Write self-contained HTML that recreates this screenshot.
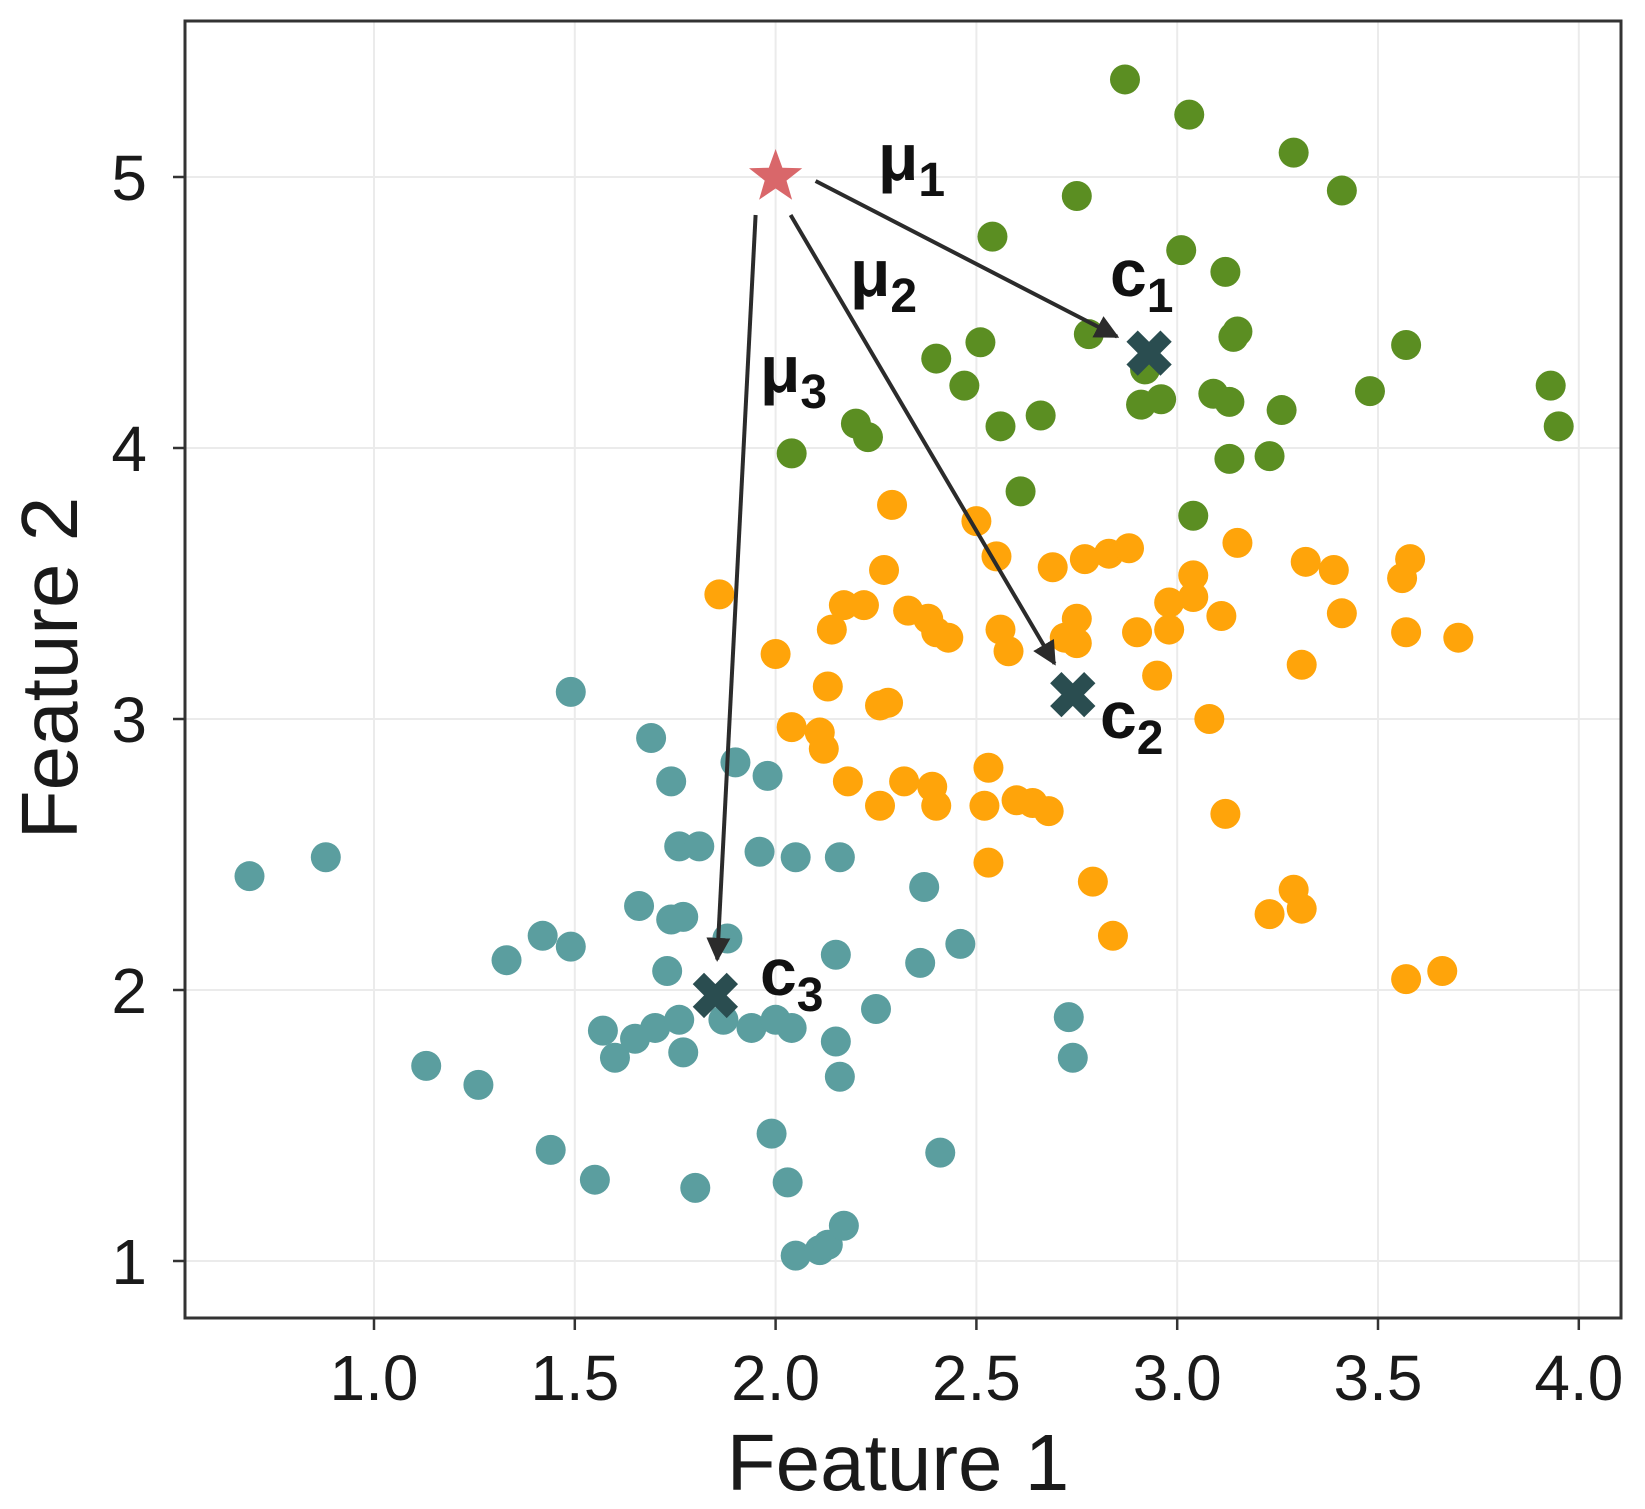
<!DOCTYPE html>
<html><head><meta charset="utf-8"><style>
html,body{margin:0;padding:0;background:#fff;}
svg{display:block;font-family:"Liberation Sans","DejaVu Sans",sans-serif;}
</style></head><body>
<svg id="chart" width="1645" height="1509" viewBox="0 0 1645 1509" xmlns="http://www.w3.org/2000/svg">
<defs><marker id="ah" viewBox="0 0 10 10" refX="9" refY="5" markerWidth="6" markerHeight="6" orient="auto-start-reverse"><path d="M0,0 L10,5 L0,10 z" fill="#2b2b2b"/></marker></defs>
<g id="grid"></g><g id="pts"></g><g id="ann"></g><g id="axes"></g>
</svg>
<script>
const xTicks=[1.0,1.5,2.0,2.5,3.0,3.5,4.0];
const xTickLabels=["1.0","1.5","2.0","2.5","3.0","3.5","4.0"];
const yTicks=[1,2,3,4,5];
const yTickLabels=["1","2","3","4","5"];
const greenX=[2.87,3.03,3.29,3.41,2.75,2.54,3.01,3.12,2.78,2.51,3.14,2.40,2.47,2.92,2.91,2.96,3.09,3.13,3.26,3.48,3.57,3.93,3.95,2.56,2.66,2.20,2.23,2.04,3.13,3.23,2.61,3.04,3.15];
const greenY=[5.36,5.23,5.09,4.95,4.93,4.78,4.73,4.65,4.42,4.39,4.41,4.33,4.23,4.29,4.16,4.18,4.20,4.17,4.14,4.21,4.38,4.23,4.08,4.08,4.12,4.09,4.04,3.98,3.96,3.97,3.84,3.75,4.43];
const orangeX=[2.29,2.50,2.55,3.15,2.69,2.77,2.83,2.88,3.32,3.39,3.56,3.58,3.04,3.04,2.27,1.86,2.17,2.22,2.33,2.38,2.40,2.43,2.14,2.56,2.58,2.75,2.75,2.72,2.90,2.98,2.98,3.11,3.41,3.57,3.70,3.31,2.95,2.00,2.13,2.26,2.28,2.04,2.11,2.12,3.08,2.53,2.18,2.32,2.39,2.40,2.26,2.52,2.60,2.64,2.68,2.79,3.12,2.84,3.23,3.29,3.31,3.57,3.66,2.53];
const orangeY=[3.79,3.73,3.60,3.65,3.56,3.59,3.61,3.63,3.58,3.55,3.52,3.59,3.53,3.45,3.55,3.46,3.42,3.42,3.40,3.37,3.32,3.30,3.33,3.33,3.25,3.37,3.28,3.30,3.32,3.33,3.43,3.38,3.39,3.32,3.30,3.20,3.16,3.24,3.12,3.05,3.06,2.97,2.95,2.89,3.00,2.82,2.77,2.77,2.75,2.68,2.68,2.68,2.70,2.69,2.66,2.40,2.65,2.20,2.28,2.37,2.30,2.04,2.07,2.47];
const tealX=[1.49,1.69,1.74,1.90,1.98,0.69,0.88,1.76,1.81,1.96,2.05,2.16,1.66,1.74,1.77,2.37,1.42,1.49,1.33,1.73,1.88,2.15,2.46,2.36,1.57,1.60,1.65,1.70,1.76,1.77,1.87,1.94,2.00,2.04,2.15,2.25,2.16,2.73,2.74,1.13,1.26,1.44,1.55,1.80,1.99,2.03,2.41,2.05,2.11,2.13,2.17];
const tealY=[3.10,2.93,2.77,2.84,2.79,2.42,2.49,2.53,2.53,2.51,2.49,2.49,2.31,2.26,2.27,2.38,2.20,2.16,2.11,2.07,2.19,2.13,2.17,2.10,1.85,1.75,1.82,1.86,1.89,1.77,1.89,1.86,1.89,1.86,1.81,1.93,1.68,1.90,1.75,1.72,1.65,1.41,1.30,1.27,1.47,1.29,1.40,1.02,1.04,1.06,1.13];
const centroidNames=["c1","c2","c3"];
const centroidX=[2.93,2.74,1.85];
const centroidY=[4.35,3.09,1.98];
const startX=[2.0], startY=[5.0];

const L=185,R=1621,T=21,B=1318;
const X0=374,XU=401.6,Y1=1261,YU=271;
function sx(v){return X0+(v-1)*XU;}
function sy(v){return Y1-(v-1)*YU;}
const NS="http://www.w3.org/2000/svg";
function mk(tag,attrs,parent){const e=document.createElementNS(NS,tag);for(const k in attrs)e.setAttribute(k,attrs[k]);parent.appendChild(e);return e;}
const grid=document.getElementById('grid'),pts=document.getElementById('pts'),ann=document.getElementById('ann'),axes=document.getElementById('axes');

const bg=mk('rect',{x:L,y:T,width:R-L,height:B-T,fill:'#fff'},grid);


xTicks.forEach((v,i)=>{
  const g=mk('line',{x1:sx(v),x2:sx(v),y1:T,y2:B,stroke:'#ebebeb','stroke-width':2},grid);
  
  
  const t=mk('line',{x1:sx(v),x2:sx(v),y1:B,y2:B+12,stroke:'#333','stroke-width':2.5},axes);
  
  
  const lb=mk('text',{x:sx(v),y:1400,'text-anchor':'middle','font-size':64,fill:'#1a1a1a'},axes);
  lb.textContent=xTickLabels[i];
  
  
});
yTicks.forEach((v,i)=>{
  const g=mk('line',{x1:L,x2:R,y1:sy(v),y2:sy(v),stroke:'#ebebeb','stroke-width':2},grid);
  
  
  const t=mk('line',{x1:L-12,x2:L,y1:sy(v),y2:sy(v),stroke:'#333','stroke-width':2.5},axes);
  
  
  const lb=mk('text',{x:L-38,y:sy(v)+23,'text-anchor':'end','font-size':64,fill:'#1a1a1a'},axes);
  lb.textContent=yTickLabels[i];
  
  
});
const frame=mk('rect',{x:L,y:T,width:R-L,height:B-T,fill:'none',stroke:'#333','stroke-width':3},axes);


const xt=mk('text',{x:898,y:1490,'text-anchor':'middle','font-size':80,fill:'#1a1a1a'},axes);
xt.textContent='Feature 1';


const yt=mk('text',{x:0,y:0,'text-anchor':'middle','font-size':80,fill:'#1a1a1a',transform:'translate(77,668) rotate(-90)'},axes);
yt.textContent='Feature 2';



function series(xs,ys,color,name){
  xs.forEach((v,i)=>{
    const c=mk('circle',{cx:sx(v),cy:sy(ys[i]),r:15,fill:color},pts);
    
    
  });
}
series(greenX,greenY,'#5b8e22','cluster-1-point');
series(orangeX,orangeY,'#ffa40a','cluster-2-point');
series(tealX,tealY,'#5b9e9f','cluster-3-point');

(function(){
  const cx=sx(startX[0]),cy=sy(startY[0]),ro=28,ri=11.5;let d='';
  for(let k=0;k<10;k++){const r=k%2?ri:ro;const a=-Math.PI/2+k*Math.PI/5;d+=(k?'L':'M')+(cx+r*Math.cos(a)).toFixed(1)+','+(cy+r*Math.sin(a)).toFixed(1);}
  const s=mk('path',{d:d+'Z',fill:'#d9676a'},ann);
  
  
})();
const sOff=[[40,4],[15,38],[-20,38]];
centroidX.forEach((v,i)=>{
  const x1=sx(startX[0])+sOff[i][0],y1=sy(startY[0])+sOff[i][1];
  const x2=sx(v),y2=sy(centroidY[i]);
  const dx=x2-x1,dy=y2-y1,len=Math.hypot(dx,dy),sh=36;
  const a=mk('line',{x1:x1,y1:y1,x2:x2-dx/len*sh,y2:y2-dy/len*sh,stroke:'#2b2b2b','stroke-width':4,'marker-end':'url(#ah)'},ann);
  
  
});
centroidX.forEach((v,i)=>{
  const cx=sx(v),cy=sy(centroidY[i]),s=17;
  const p=mk('path',{d:`M${cx-s},${cy-s}L${cx+s},${cy+s}M${cx+s},${cy-s}L${cx-s},${cy+s}`,stroke:'#2a4d50','stroke-width':16,'stroke-linecap':'butt'},ann);
  
  
});
const labels=[["μ","1",878,180],["c","1",1110,296],["μ","2",850,296],["c","2",1100,738],["μ","3",760,392],["c","3",760,995]];
labels.forEach(l=>{
  const t=mk('text',{x:l[2],y:l[3],'font-size':66,'font-weight':'bold',fill:'#111'},ann);
  t.textContent=l[0];
  const s=mk('tspan',{'font-size':48,dy:16},t);
  s.textContent=l[1];
  
  
});
</script>
</body></html>
